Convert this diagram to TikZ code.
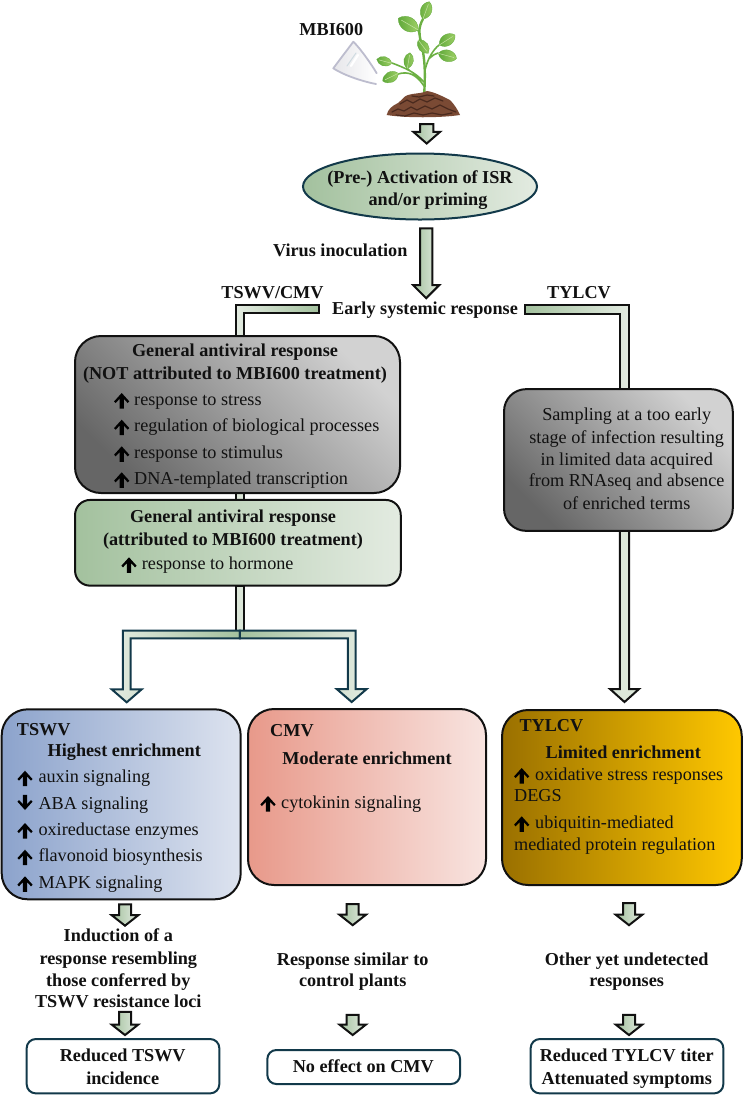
\documentclass[tikz,border=0pt]{standalone}
\usepackage{fontspec}
\setmainfont{Liberation Serif}
\usetikzlibrary{calc,backgrounds,shapes.geometric}
\definecolor{navy}{HTML}{12394A}
\definecolor{sageD}{HTML}{A3C19E}
\definecolor{sageL}{HTML}{E3EBE1}
\definecolor{sageP}{HTML}{DCE7D9}
\definecolor{ink}{HTML}{111111}
\definecolor{leafD}{HTML}{5FA83A}
\definecolor{leafL}{HTML}{9FD066}
\definecolor{soilD}{HTML}{4A2A1E}
\definecolor{soilL}{HTML}{7A4A34}
\definecolor{greyD}{HTML}{666666}
\definecolor{greyL}{HTML}{D2D2D2}
\definecolor{blueD}{HTML}{8CA3CC}
\definecolor{blueL}{HTML}{DDE3EF}
\definecolor{roseD}{HTML}{E8998A}
\definecolor{roseL}{HTML}{F8E4E0}
\definecolor{goldD}{HTML}{9A7000}
\definecolor{goldL}{HTML}{FFC800}
\tikzset{
  x=1pt,y=-1pt,
  panel/.style={draw=ink,line width=2pt,rounded corners=#1,inner sep=0pt,outer sep=0pt},
  result/.style={draw=navy,line width=2pt,rounded corners=9pt,fill=white,inner sep=0pt,outer sep=0pt},
  txt/.style={font=\fontsize{18.2}{22}\selectfont,text=ink,anchor=base,inner sep=0pt},
  txtl/.style={txt,anchor=base west},
  hd/.style={txt,font=\fontsize{18.2}{22}\selectfont\bfseries},
  hdl/.style={hd,anchor=base west},
  flowdark/.style={draw=ink,line width=2pt,left color=sageD,right color=sageL},
  flowlight/.style={draw=ink,line width=2pt,left color=sageL,right color=sageD},
  splitflow/.style={draw=navy,line width=2pt},
  upmark/.pic={\fill[black] (0,-12) -- (7.6,-3.6) -- (6,-2) -- (2.1,-6.2) -- (2.1,3.5) -- (-2.1,3.5) -- (-2.1,-6.2) -- (-6,-2) -- (-7.6,-3.6) -- cycle;},
  downmark/.pic={\fill[black] (0,0.7) -- (7.6,-7.7) -- (6,-9.3) -- (2.1,-5.1) -- (2.1,-14.5) -- (-2.1,-14.5) -- (-2.1,-5.1) -- (-6,-9.3) -- (-7.6,-7.7) -- cycle;}
}
% downward block arrow: style, start, tip, half shaft, half head, head length
\newcommand{\blockdown}[6]{%
  \path let \p1=(#2),\p2=(#3) in
    [#1] (\x2-#4pt,\y1) -- (\x2+#4pt,\y1) -- (\x2+#4pt,\y2+#6pt) -- (\x2+#5pt,\y2+#6pt)
    -- (\x2,\y2) -- (\x2-#5pt,\y2+#6pt) -- (\x2-#4pt,\y2+#6pt) -- cycle;}
% one half of the split arrow: style, top of junction, tip, side (+1 or -1)
\newcommand{\splitarrow}[4]{%
  \path let \p1=(#2),\p2=(#3) in
    [#1] (\x1,\y1) -- (\x2+#4*3.9pt,\y1) -- (\x2+#4*3.9pt,\y2+13pt) -- (\x2+#4*15pt,\y2+13pt)
    -- (\x2,\y2) -- (\x2-#4*15pt,\y2+13pt) -- (\x2-#4*3.9pt,\y2+13pt)
    -- (\x2-#4*3.9pt,\y1-7.6pt) -- (\x1,\y1-7.6pt) -- cycle;}
% leaf from its base to its tip
\newcommand{\leafshape}[2]{%
  \path[left color=leafD,right color=leafL,draw=leafD,line width=0.3pt]
    (#1) .. controls ($(#1)!0.5!62:(#2)$) and ($(#1)!0.9!24:(#2)$) .. (#2)
    .. controls ($(#1)!0.9!-24:(#2)$) and ($(#1)!0.5!-62:(#2)$) .. (#1) -- cycle;
  \draw[leafL!60!white,line width=0.5pt] (#1) -- ($(#1)!0.85!(#2)$);}
\begin{document}
\begin{tikzpicture}
\useasboundingbox (0,0) rectangle (743,1096);

% potted-soil seedling
\draw[leafD!80!leafL,line width=2.4pt,line cap=round]
  (424,97) .. controls (425,80) and (426,62) .. (421,42) .. controls (419,34) and (418,28) .. (423,19);
\draw[leafD!80!leafL,line width=1.6pt,line cap=round]
  (424,82) .. controls (415,72) and (405,68) .. (392,63)
  (398,74) .. controls (408,71) and (416,74) .. (424,86)
  (425,70) .. controls (428,58) and (433,50) .. (439,45)
  (430,58) .. controls (433,55) and (435,54) .. (438,53)
  (407,68) -- (410,71)
  (418,30) -- (420,36);
\foreach \bx/\by/\tx/\ty in {423/19/429.3/1.7, 418.3/30/398.3/18.3, 418.3/40/428.3/53.3, 439.3/45/455/35,
  438.3/53.3/456.7/58.3, 391.7/63.3/376.7/59.3, 398.3/73.3/382.7/81, 407.3/68.3/410/52.7}
  {\coordinate (lb) at (\bx,\by); \coordinate (lt) at (\tx,\ty); \leafshape{lb}{lt}}
\fill[soilL] (386.7,115) .. controls (388,109) and (392,106) .. (398,103) .. controls (402,100) and (404,96) .. (408,95)
  .. controls (414,93) and (420,94) .. (427,91) .. controls (434,92) and (442,96) .. (450,100)
  .. controls (454,104) and (458,110) .. (460,115) .. controls (440,118) and (405,118) .. (386.7,115) -- cycle;
\draw[soilD,line width=1.2pt,line cap=round,line join=round]
  (392,112) -- (398,109) -- (404,111) -- (411,107) -- (417,110) -- (425,106) -- (432,109) -- (440,105) -- (448,109) -- (456,112)
  (400,104) -- (407,100) -- (413,103) -- (420,99) -- (427,102) -- (435,98) -- (443,101)
  (396,115) -- (405,116) -- (414,113) -- (423,115) -- (432,113) -- (442,115) -- (452,113)
  (412,96) -- (419,97) -- (427,95) -- (434,96);

% conical sample tube
\path[left color=blue!8!gray!18!white,right color=white,line join=round]
  (333.3,68.3) -- (353.3,41.7) .. controls (360,48) and (372,65) .. (376.7,73.3) -- (376,84) .. controls (365,82) and (345,76) .. (333.3,68.3) -- cycle;
\draw[blue!15!gray!45,line width=1.8pt,line cap=round,line join=round] (376,84) .. controls (365,82) and (345,76) .. (333.3,68.3) -- (353.3,41.7) .. controls (360,48) and (372,65) .. (376.7,73.3);
\draw[white,line width=2.2pt,line cap=round] (351,66) -- (358,55);
\draw[cyan!25!gray!35,line width=1pt,line cap=round] (347,66) -- (356,53);

% text and box nodes
\node[hd] (mbi) at (331.3,35) {MBI600};
\node[ellipse,draw=navy,line width=2pt,minimum width=234pt,minimum height=66pt,inner sep=0pt,outer sep=0pt,left color=sageD,right color=sageL] (activation) at (420,186.5) {};
\node[hd] (act1) at (420,183.3) {(Pre-) Activation of ISR};
\node[hd] (act2) at (428,205.5) {and/or priming};
\node[hd] (inoc) at (340.3,256.7) {Virus inoculation};
\node[hd] (tc) at (272.5,298.3) {TSWV/CMV};
\node[hd] (early) at (425,314) {Early systemic response};
\node[hd] (ty) at (579,298.3) {TYLCV};

% general antiviral response, not attributed
\node[panel=26pt,minimum width=325pt,minimum height=157pt,left color=greyD,right color=greyL,shading angle=135] (general) at (237.5,414.5) {};
\node[hd] (g1) at (235,356.7) {General antiviral response};
\node[hd] (g2) at (235,379.3) {(NOT attributed to MBI600 treatment)};
\pic at (121.7,405) {upmark};
\node[txtl] (g3) at (134,405) {response to stress};
\pic at (121.7,431.7) {upmark};
\node[txtl] (g4) at (134,431.7) {regulation of biological processes};
\pic at (121.7,458.3) {upmark};
\node[txtl] (g5) at (134,458.3) {response to stimulus};
\pic at (121.7,484.3) {upmark};
\node[txtl] (g6) at (134,484.3) {DNA-templated transcription};

% general antiviral response, attributed
\node[panel=15pt,minimum width=325.7pt,minimum height=85.7pt,left color=sageD,right color=sageL] (attrib) at (237.9,542.8) {};
\node[hd] (a1) at (233,522.3) {General antiviral response};
\node[hd] (a2) at (233,545) {(attributed to MBI600 treatment)};
\pic at (129,569.3) {upmark};
\node[txtl] (a3) at (141.7,569.3) {response to hormone};

% sampling note
\node[panel=22pt,minimum width=228.7pt,minimum height=141.7pt,left color=greyD,right color=greyL,shading angle=135] (sampling) at (618.4,460) {};
\node[txt] (s1) at (626.7,420.7) {Sampling at a too early};
\node[txt] (s2) at (626.7,443.3) {stage of infection resulting};
\node[txt] (s3) at (626.7,465) {in limited data acquired};
\node[txt] (s4) at (626.7,486.7) {from RNAseq and absence};
\node[txt] (s5) at (626.7,509) {of enriched terms};

% TSWV panel
\node[panel=26pt,minimum width=239pt,minimum height=190pt,left color=blueD,right color=blueL] (tswv) at (121.2,804.3) {};
\node[hdl] (t1) at (16.7,735) {TSWV};
\node[hd] (t2) at (124.3,756) {Highest enrichment};
\pic at (25,782.7) {upmark};
\node[txtl] (t3) at (38.3,782.7) {auxin signaling};
\pic at (25,809.3) {downmark};
\node[txtl] (t4) at (38.3,809.3) {ABA signaling};
\pic at (25,835) {upmark};
\node[txtl] (t5) at (38.3,835) {oxireductase enzymes};
\pic at (25,861.7) {upmark};
\node[txtl] (t6) at (38.3,861.7) {flavonoid biosynthesis};
\pic at (25,888.3) {upmark};
\node[txtl] (t7) at (38.3,888.3) {MAPK signaling};

% CMV panel
\node[panel=26pt,minimum width=238pt,minimum height=176pt,left color=roseD,right color=roseL] (cmv) at (367,797) {};
\node[hdl] (c1) at (270,736) {CMV};
\node[hd] (c2) at (367,764) {Moderate enrichment};
\pic at (268,808) {upmark};
\node[txtl] (c3) at (281,808) {cytokinin signaling};

% TYLCV panel
\node[panel=26pt,minimum width=239.7pt,minimum height=175pt,left color=goldD,right color=goldL] (tylcv) at (621.9,797.5) {};
\node[hdl] (y1) at (519.3,731.7) {TYLCV};
\node[hd] (y2) at (623.3,758.3) {Limited enrichment};
\pic at (521.7,780) {upmark};
\node[txtl] (y3) at (535,780) {oxidative stress responses};
\node[txtl] (y4) at (514,801.7) {DEGS};
\pic at (521.7,828.3) {upmark};
\node[txtl] (y5) at (535,828.3) {ubiquitin-mediated};
\node[txtl] (y6) at (514,850.7) {mediated protein regulation};

% downstream responses
\node[hd] (i1) at (118.3,941.7) {Induction of a};
\node[hd] (i2) at (118.3,964) {response resembling};
\node[hd] (i3) at (118.3,986) {those conferred by};
\node[hd] (i4) at (118.3,1007.3) {TSWV resistance loci};
\node[hd] (r1) at (352.7,965) {Response similar to};
\node[hd] (r2) at (352.7,986.7) {control plants};
\node[hd] (o1) at (626.7,965) {Other yet undetected};
\node[hd] (o2) at (626.7,986.7) {responses};

% outcomes
\node[result,minimum width=192.6pt,minimum height=54.3pt] (out1) at (123,1066.2) {};
\node[hd] (o11) at (122.7,1061.7) {Reduced TSWV};
\node[hd] (o12) at (122.7,1084) {incidence};
\node[result,minimum width=192.7pt,minimum height=34pt] (out2) at (363.7,1067) {};
\node[hd] (o21) at (363.3,1072.7) {No effect on CMV};
\node[result,minimum width=192.6pt,minimum height=54.3pt] (out3) at (627,1066.2) {};
\node[hd] (o31) at (626.7,1061.7) {Reduced TYLCV titer};
\node[hd] (o32) at (626.7,1084) {Attenuated symptoms};

% free ends of the connectors
\coordinate (pTop) at ($(mbi)+(95.4,95)$);
\coordinate (pTip) at ($(activation.north)+(6.7,-10)$);
\coordinate (vTop) at ($(activation.south)+(6.2,8.8)$);
\coordinate (vTip) at ($(early.north)+(1.2,-3)$);
\coordinate (splitTop) at ($(attrib.south)+(1.9,45)$);
\coordinate (splitL) at ($(tswv.north)+(5.5,-7)$);
\coordinate (splitR) at ($(cmv.north)+(-15.3,-7)$);
\coordinate (elbowOutL) at ($(general.north)+(-2,-31)$);
\coordinate (elbowInL) at ($(general.north)+(6.5,-23)$);
\coordinate (elbowEndL) at ($(early.west)+(-13,0)$);
\coordinate (elbowOutR) at ($(sampling.north)+(10.9,-84)$);
\coordinate (elbowInR) at ($(sampling.north)+(1.6,-74.7)$);
\coordinate (elbowEndR) at ($(early.east)+(6.7,0)$);

\begin{scope}[on background layer]
  % seedling to priming, inoculation to early response
  \blockdown{flowdark}{pTop}{pTip}{6.6}{13.4}{11.7}
  \blockdown{flowdark}{vTop}{vTip}{6.2}{13}{13}
  % early response to the three branches
  \path[flowlight] (elbowEndL |- elbowOutL) -- (elbowOutL) -- ($(general.north)+(-2,0)$)
    -- ($(general.north)+(6.5,0)$) -- (elbowInL) -- (elbowEndL |- elbowInL) -- cycle;
  \path[flowdark] (elbowEndR |- elbowOutR) -- (elbowOutR) -- ($(sampling.north)+(10.9,0)$)
    -- ($(sampling.north)+(1.6,0)$) -- (elbowInR) -- (elbowEndR |- elbowInR) -- cycle;
  \coordinate (sBottom) at ($(sampling.south)+(6.2,0)$);
  \blockdown{draw=ink,line width=2pt,fill=sageP}{sBottom}{$(tylcv.north)+(2.6,-8)$}{4.7}{14.5}{13}
  % general response down to the junction
  \path[draw=ink,line width=2pt,fill=sageP] ($(general.south)+(-1.8,0)$) rectangle ($(attrib.north)+(6.1,0)$);
  \path[draw=ink,line width=2pt,fill=sageP] ($(attrib.south)+(-2.2,0)$) rectangle ($(splitTop)+(4.2,0)$);
  % small arrows through the response columns
  \blockdown{flowdark}{$(tswv.south)+(3.8,5)$}{$(i1.north)+(6.7,-3)$}{6}{13.3}{10.5}
  \blockdown{flowdark}{$(cmv.south)+(-14.3,19)$}{$(r1.north)+(0,-27)$}{6}{13.3}{10.5}
  \blockdown{flowdark}{$(tylcv.south)+(7.1,18)$}{$(o1.north)+(2.3,-27)$}{6}{13.3}{10.5}
  \blockdown{flowdark}{$(i4.south)+(6.7,4)$}{$(out1.north)+(2,-4)$}{6}{13.3}{10.5}
  \blockdown{flowdark}{$(r2.south)+(0,24)$}{$(out2.north)+(-11,-15)$}{6}{13.3}{10.5}
  \blockdown{flowdark}{$(o2.south)+(2.3,24)$}{$(out3.north)+(2,-4)$}{6}{13.3}{10.5}
\end{scope}
% the split sits above the general-response trunk
\splitarrow{splitflow,left color=sageL,right color=sageD}{splitTop}{splitL}{-1}
\splitarrow{splitflow,left color=sageD,right color=sageL}{splitTop}{splitR}{1}
\end{tikzpicture}
\end{document}
